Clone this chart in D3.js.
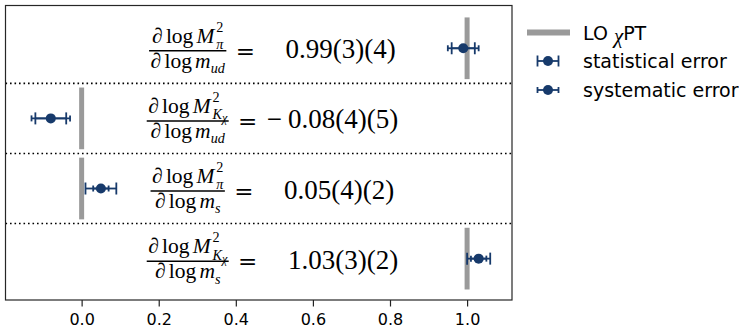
<!DOCTYPE html>
<html><head><meta charset="utf-8">
<script src="https://cdn.jsdelivr.net/npm/d3@7"></script>
<style>body{margin:0;background:#fff;} svg{display:block;}</style>
</head><body>
<svg id="chart" width="739" height="329"></svg>
<script>
// Log-derivatives of the squared meson masses with respect to the quark masses
const mesons = ["π", "K", "π", "K"];
const quarkMasses = ["ud", "ud", "s", "s"];
const centralValues = [0.99, -0.08, 0.05, 1.03];
const statErrors = [0.03, 0.04, 0.04, 0.03];
const sysErrors = [0.04, 0.05, 0.02, 0.02];
const loChPT = [1, 0, 0, 1];
const xTicks = [0, 0.2, 0.4, 0.6, 0.8, 1.0];
const legendLabels = ["LO ", "χ", "PT", "statistical error", "systematic error"];

const svg = d3.select("#chart");
const plot = {left: 5.5, right: 512, top: 5.5, bottom: 300};
const x = d3.scaleLinear().domain([-0.1975, 1.1165]).range([plot.left, plot.right]);
const y = d3.scaleLinear().domain([-0.61, 3.59]).range([plot.top, plot.bottom]);
const rows = d3.range(centralValues.length);
const navy = "#173a6b", grey = "#9a9a9a";
const serif = "'Liberation Serif', 'DejaVu Serif', serif";
const sans = "'DejaVu Sans', sans-serif";

// row separators
svg.append("g").selectAll("line").data(rows.slice(0, -1)).join("line")
  .attr("x1", plot.left).attr("x2", plot.right)
  .attr("y1", d => y(d + 0.5)).attr("y2", d => y(d + 0.5))
  .attr("stroke", "#000").attr("stroke-width", 1.6).attr("stroke-dasharray", "1.6,2.9");

// leading-order chiral perturbation theory expectation
svg.append("g").selectAll("line").data(rows).join("line")
  .attr("x1", d => x(loChPT[d])).attr("x2", d => x(loChPT[d]))
  .attr("y1", d => y(d - 0.44)).attr("y2", d => y(d + 0.44))
  .attr("stroke", grey).attr("stroke-width", 5);

// error bars: systematic (short caps) and statistical (tall caps)
function errorBar(g, cy, lo, hi, capHalf) {
  g.append("line").attr("x1", lo).attr("x2", hi).attr("y1", cy).attr("y2", cy)
    .attr("stroke", navy).attr("stroke-width", 1.8);
  [lo, hi].forEach(px => g.append("line").attr("x1", px).attr("x2", px)
    .attr("y1", cy - capHalf).attr("y2", cy + capHalf)
    .attr("stroke", navy).attr("stroke-width", 1.8));
}
const marks = svg.append("g");
rows.forEach(i => {
  const v = centralValues[i], cy = y(i);
  errorBar(marks, cy, x(v - sysErrors[i]), x(v + sysErrors[i]), 3);
  errorBar(marks, cy, x(v - statErrors[i]), x(v + statErrors[i]), 6);
  marks.append("circle").attr("cx", x(v)).attr("cy", cy).attr("r", 5).attr("fill", navy);
});

// math-style label pieces laid out left to right
function mathRun(g, pieces, size) {
  let cx = 0, prevStart = 0;
  pieces.forEach(p => {
    const fs = size * (p.scale || 1);
    const t = g.append("text").attr("font-family", serif).attr("font-size", fs)
      .attr("font-style", p.italic ? "italic" : "normal").attr("fill", "#000").text(p.t);
    const start = p.stack ? prevStart : cx + (p.gap || 0) * size;
    t.attr("x", start).attr("y", (p.shift || 0) * size);
    const w = t.node().getComputedTextLength();
    if (p.stack) cx = Math.max(cx, start + w);
    else { prevStart = start; cx = start + w; }
  });
  return cx;
}

const fracSize = 21.5, valueSize = 27;
const fmtVal = d3.format(".2f");
const labels = svg.append("g");
rows.forEach(i => {
  const g = labels.append("g");
  const num = g.append("g"), den = g.append("g");
  const numPieces = [
    {t: "∂", italic: true}, {t: "log", gap: 0.15}, {t: "M", italic: true, gap: 0.15},
    {t: "2", scale: 0.66, shift: -0.52, gap: 0.08}
  ];
  if (mesons[i] === "π") numPieces.push({t: "π", italic: true, scale: 0.66, shift: 0.3, stack: true});
  else numPieces.push({t: "K", italic: true, scale: 0.66, shift: 0.3, stack: true},
                      {t: "χ", italic: true, scale: 0.56, shift: 0.44});
  const wn = mathRun(num, numPieces, fracSize);
  const wd = mathRun(den, [
    {t: "∂", italic: true}, {t: "log", gap: 0.15}, {t: "m", italic: true, gap: 0.15},
    {t: quarkMasses[i], italic: true, scale: 0.66, shift: 0.25}
  ], fracSize);
  const W = Math.max(wn, wd) + 3;
  num.attr("transform", `translate(${(W - wn) / 2},-5.5)`);
  den.attr("transform", `translate(${(W - wd) / 2},19.5)`);
  g.append("line").attr("x1", 0).attr("x2", W).attr("y1", 2.5).attr("y2", 2.5)
    .attr("stroke", "#000").attr("stroke-width", 1.5);
  g.append("text").attr("x", W + 19).attr("y", 10.5).attr("text-anchor", "middle")
    .attr("font-family", "'DejaVu Serif', serif").attr("font-size", 23).text("=");
  const v = centralValues[i];
  const val = g.append("text").attr("x", W + 38).attr("y", 10)
    .attr("font-family", serif).attr("font-size", valueSize);
  val.append("tspan").attr("fill-opacity", v < 0 ? 1 : 0).text("−");
  val.append("tspan").attr("dx", 6)
    .text(`${fmtVal(Math.abs(v))}(${Math.round(statErrors[i] * 100)})(${Math.round(sysErrors[i] * 100)})`);
  const total = W + 38 + val.node().getComputedTextLength() + 6;
  g.attr("transform", `translate(${x(0.495) - total / 2},${y(i)})`);
});

// x axis
const axis = svg.append("g").attr("transform", `translate(0,${plot.bottom})`)
  .call(d3.axisBottom(x).tickValues(xTicks).tickFormat(d3.format(".1f")).tickSize(6.5).tickPadding(7.5));
axis.select(".domain").remove();
axis.selectAll(".tick line").attr("stroke", "#222").attr("stroke-width", 1.2);
axis.selectAll(".tick text").attr("font-family", sans).attr("font-size", 16).attr("fill", "#000");

// frame
svg.append("rect").attr("x", plot.left).attr("y", plot.top)
  .attr("width", plot.right - plot.left).attr("height", plot.bottom - plot.top)
  .attr("fill", "none").attr("stroke", "#262626").attr("stroke-width", 1.2);

// legend
const legend = svg.append("g").attr("font-family", sans).attr("font-size", 19);
const ly = [32.5, 61, 90];
legend.append("line").attr("x1", 527).attr("x2", 570).attr("y1", ly[0]).attr("y2", ly[0])
  .attr("stroke", grey).attr("stroke-width", 6);
const t0 = legend.append("text").attr("x", 583).attr("y", ly[0] + 7);
t0.append("tspan").text(legendLabels[0]);
t0.append("tspan").attr("font-family", serif).attr("font-style", "italic").attr("font-size", 21).attr("dy", 3).text(legendLabels[1]);
t0.append("tspan").attr("dy", -3).text(legendLabels[2]);
[[ly[1], 5.5, legendLabels[3]], [ly[2], 3, legendLabels[4]]].forEach(([yy, cap, label]) => {
  errorBar(legend, yy, 537.5, 558.5, cap);
  legend.append("circle").attr("cx", 548).attr("cy", yy).attr("r", 5).attr("fill", navy);
  legend.append("text").attr("x", 583).attr("y", yy + 6.5).text(label);
});
</script>
</body></html>
